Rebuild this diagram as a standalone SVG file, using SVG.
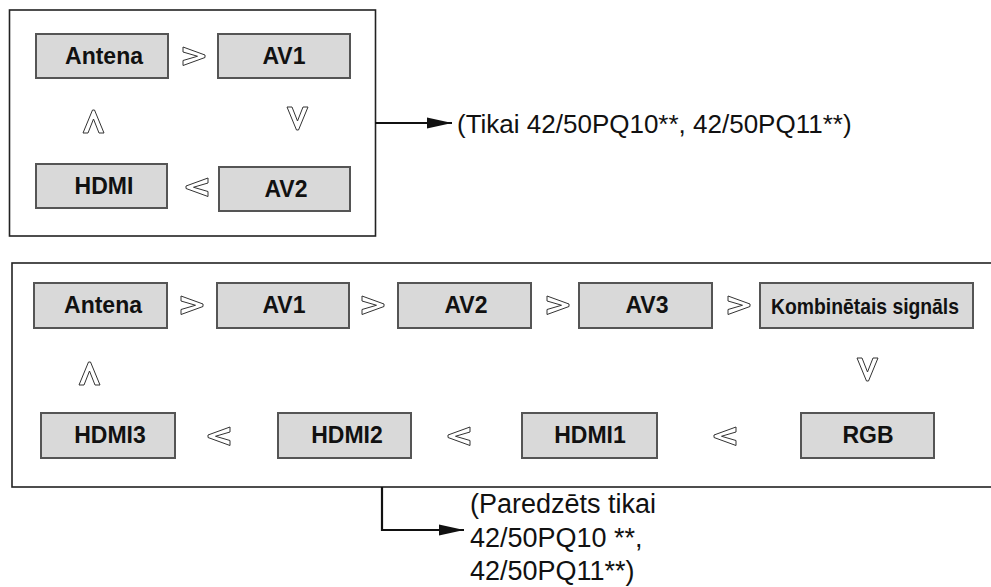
<svg xmlns="http://www.w3.org/2000/svg" xmlns:xlink="http://www.w3.org/1999/xlink" width="991" height="587" viewBox="0 0 991 587">
<style>
.frame{fill:none;stroke:#222;stroke-width:1.6}
.node rect{fill:#d9d9d9;stroke:#555;stroke-width:2}
.node text{font-family:"Liberation Sans",Arial,sans-serif;font-weight:bold;font-size:23px;fill:#111;text-anchor:middle}
.chev{fill:#fff;stroke:#333;stroke-width:1}
.conn{fill:none;stroke:#111;stroke-width:2.2}
.note{font-family:"Liberation Sans",Arial,sans-serif;fill:#111}
</style>
<defs>
<path id="chevR" d="M0,0 L22,8 L22,10.5 L0,18.5 L0,13.5 L14.5,9.25 L0,5 Z"/>
<path id="chevU" d="M9.5,0 L11.5,0 L21,23 L16,23 L10.5,9 L5,23 L0,23 Z"/>
<marker id="arr" markerWidth="26" markerHeight="12" refX="25" refY="6" orient="auto" markerUnits="userSpaceOnUse">
<path d="M0,0.5 L25,6 L0,11.5 Z" fill="#111"/>
</marker>
</defs>
<rect width="991" height="587" fill="#fff"/>
<rect class="frame" x="9.5" y="10" width="366" height="226"/>
<rect class="frame" x="12" y="263" width="1000" height="224"/>

<g id="top-antena" class="node"><rect x="36" y="34" width="132" height="44"/><text x="104" y="64">Antena</text></g>
<g id="top-av1" class="node"><rect x="218" y="34" width="132" height="44"/><text x="284" y="64">AV1</text></g>
<g id="top-hdmi" class="node"><rect x="36" y="164" width="131" height="44"/><text x="104" y="194">HDMI</text></g>
<g id="top-av2" class="node"><rect x="219" y="167" width="131" height="44"/><text x="286" y="197">AV2</text></g>

<g id="bot-antena" class="node"><rect x="34" y="283" width="133" height="45"/><text x="103" y="313">Antena</text></g>
<g id="bot-av1" class="node"><rect x="217" y="283" width="132" height="45"/><text x="284" y="313">AV1</text></g>
<g id="bot-av2" class="node"><rect x="398" y="283" width="133" height="45"/><text x="466" y="313">AV2</text></g>
<g id="bot-av3" class="node"><rect x="579" y="283" width="133" height="45"/><text x="647" y="313">AV3</text></g>
<g id="bot-komb" class="node"><rect x="760" y="283" width="213" height="45"/><text x="865" y="314" style="font-size:21.5px" textLength="188" lengthAdjust="spacingAndGlyphs">Kombinētais signāls</text></g>
<g id="bot-hdmi3" class="node"><rect x="41" y="413" width="134" height="45"/><text x="110" y="443">HDMI3</text></g>
<g id="bot-hdmi2" class="node"><rect x="278" y="413" width="133" height="45"/><text x="347" y="443">HDMI2</text></g>
<g id="bot-hdmi1" class="node"><rect x="522" y="413" width="135" height="45"/><text x="590" y="443">HDMI1</text></g>
<g id="bot-rgb" class="node"><rect x="801" y="413" width="133" height="45"/><text x="868" y="443">RGB</text></g>

<g id="connectors">
<g class="chev">
<use xlink:href="#chevR" transform="translate(183,47)"/>
<use xlink:href="#chevU" transform="translate(83,110)"/>
<use xlink:href="#chevU" transform="translate(287,130) scale(1,-1)"/>
<use xlink:href="#chevR" transform="translate(208,178) scale(-1,1)"/>
<use xlink:href="#chevR" transform="translate(181,296)"/>
<use xlink:href="#chevR" transform="translate(362,296)"/>
<use xlink:href="#chevR" transform="translate(547,296)"/>
<use xlink:href="#chevR" transform="translate(728,296)"/>
<use xlink:href="#chevU" transform="translate(79,362)"/>
<use xlink:href="#chevU" transform="translate(857,381) scale(1,-1)"/>
<use xlink:href="#chevR" transform="translate(230,427) scale(-1,1)"/>
<use xlink:href="#chevR" transform="translate(470,427) scale(-1,1)"/>
<use xlink:href="#chevR" transform="translate(736,427) scale(-1,1)"/>
</g>
<path class="conn" d="M375,123 H452" marker-end="url(#arr)"/>
<path class="conn" d="M382,487 V530 H464" marker-end="url(#arr)"/>
</g>

<g id="notes" class="note">
<text x="457" y="133" font-size="26">(Tikai 42/50PQ10**, 42/50PQ11**)</text>
<text x="470" y="513" font-size="27">(Paredzēts tikai</text>
<text x="470" y="547" font-size="27">42/50PQ10 **,</text>
<text x="470" y="580" font-size="27">42/50PQ11**)</text>
</g>
</svg>
